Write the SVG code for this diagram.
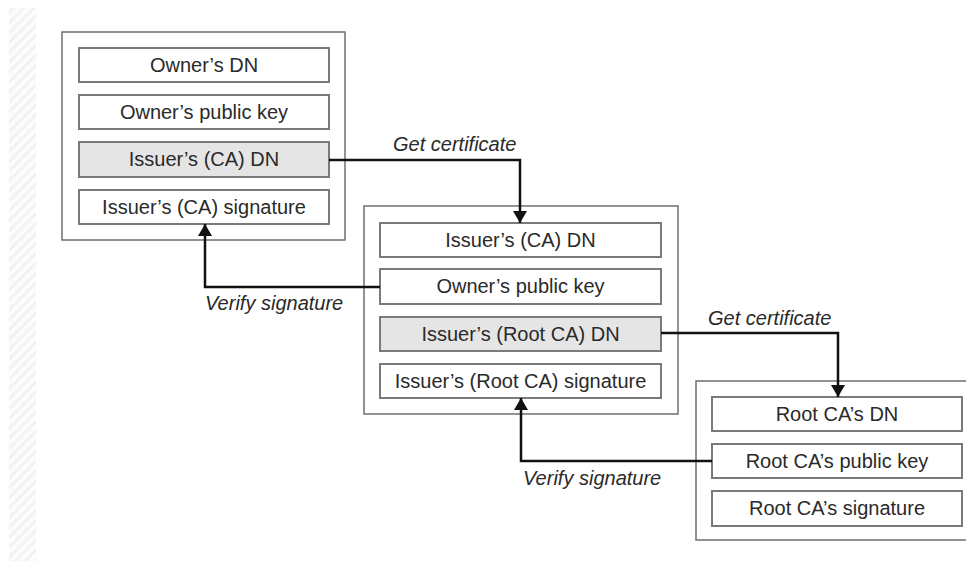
<svg xmlns="http://www.w3.org/2000/svg" width="966" height="561" viewBox="0 0 966 561">
  <defs>
    <pattern id="hatch" patternUnits="userSpaceOnUse" width="7" height="7" patternTransform="rotate(-45)">
      <rect width="7" height="7" fill="#fcfcfc"/>
      <rect width="7" height="3" fill="#f2f2f2"/>
    </pattern>
    <marker id="arrow" viewBox="0 0 12 14" refX="12" refY="7" markerWidth="12" markerHeight="14" markerUnits="userSpaceOnUse" orient="auto">
      <path d="M0,0 L12,7 L0,14 Z" fill="#111"/>
    </marker>
  </defs>
  <style>
    .cert { fill: #ffffff; stroke: #6f6f6f; stroke-width: 1.5; }
    .field { fill: #ffffff; stroke: #7a7a7a; stroke-width: 2; }
    .field.hl { fill: #e5e5e5; }
    .label { font-family: "Liberation Sans", Arial, sans-serif; font-size: 20px; fill: #2a2a2a; text-anchor: middle; }
    .flow { font-family: "Liberation Sans", Arial, sans-serif; font-size: 20px; font-style: italic; fill: #2a2a2a; }
    .conn { fill: none; stroke: #111; stroke-width: 2.5; marker-end: url(#arrow); }
  </style>

  <rect width="966" height="561" fill="#ffffff"/>
  <rect x="9" y="8" width="27" height="553" fill="url(#hatch)"/>

  <!-- end-entity certificate -->
  <g id="cert-owner">
    <rect class="cert" x="62" y="32" width="283" height="208"/>
    <rect class="field" x="79" y="48" width="250" height="34"/>
    <text class="label" x="204" y="72">Owner’s DN</text>
    <rect class="field" x="79" y="95" width="250" height="34"/>
    <text class="label" x="204" y="119">Owner’s public key</text>
    <rect class="field hl" x="79" y="142" width="250" height="35"/>
    <text class="label" x="204" y="166">Issuer’s (CA) DN</text>
    <rect class="field" x="79" y="190" width="250" height="34"/>
    <text class="label" x="204" y="214">Issuer’s (CA) signature</text>
  </g>

  <!-- intermediate CA certificate -->
  <g id="cert-ca">
    <rect class="cert" x="364" y="206" width="314" height="208"/>
    <rect class="field" x="380" y="223" width="281" height="34"/>
    <text class="label" x="520.5" y="247">Issuer’s (CA) DN</text>
    <rect class="field" x="380" y="269" width="281" height="35"/>
    <text class="label" x="520.5" y="293">Owner’s public key</text>
    <rect class="field hl" x="380" y="317" width="281" height="34"/>
    <text class="label" x="520.5" y="341">Issuer’s (Root CA) DN</text>
    <rect class="field" x="380" y="364" width="281" height="34"/>
    <text class="label" x="520.5" y="388">Issuer’s (Root CA) signature</text>
  </g>

  <!-- root CA certificate -->
  <g id="cert-root">
    <rect class="cert" x="696" y="381" width="290" height="159"/>
    <rect class="field" x="712" y="397" width="250" height="34"/>
    <text class="label" x="837" y="421">Root CA’s DN</text>
    <rect class="field" x="712" y="444" width="250" height="34"/>
    <text class="label" x="837" y="468">Root CA’s public key</text>
    <rect class="field" x="712" y="491" width="250" height="35"/>
    <text class="label" x="837" y="515">Root CA’s signature</text>
  </g>

  <g id="connectors">
    <path class="conn" d="M329,160 H520 V223"/>
    <path class="conn" d="M380,287 H205 V224"/>
    <path class="conn" d="M661,333 H838 V397"/>
    <path class="conn" d="M712,461 H521 V398"/>
    <text class="flow" x="393" y="151">Get certificate</text>
    <text class="flow" x="205" y="310">Verify signature</text>
    <text class="flow" x="708" y="325">Get certificate</text>
    <text class="flow" x="523" y="485">Verify signature</text>
  </g>
</svg>
